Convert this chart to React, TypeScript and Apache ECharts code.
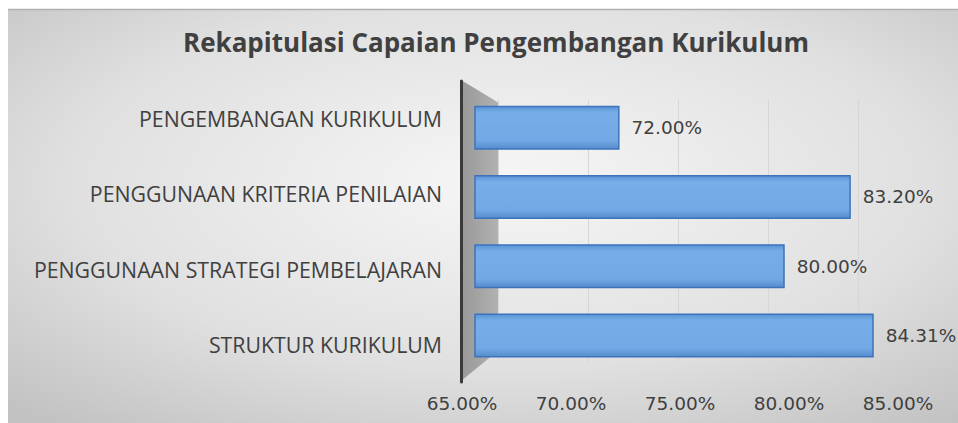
import React, { useEffect, useRef } from "react";
import * as echarts from "echarts";

const categories = [
  "STRUKTUR KURIKULUM",
  "PENGGUNAAN STRATEGI PEMBELAJARAN",
  "PENGGUNAAN KRITERIA PENILAIAN",
  "PENGEMBANGAN KURIKULUM",
];
const values = [84.31, 80.0, 83.2, 72.0];
const axisMin = 65;
const axisMax = 85;
const axisInterval = 5;
const titleText = "Rekapitulasi Capaian Pengembangan Kurikulum";

export default function App() {
  const ref = useRef<HTMLDivElement>(null);
  useEffect(() => {
    if (!ref.current) return;
    const chart = echarts.init(ref.current, undefined, { renderer: "svg" });
    const textColor = "#404040";
    chart.setOption({
      animation: false,
      title: {
        text: titleText,
        left: 491,
        top: 24,
        textAlign: "center",
        textStyle: {
          fontFamily: "Open Sans",
          fontWeight: "bold",
          fontSize: 26,
          color: textColor,
        },
      },
      graphic: [
        {
          type: "rect",
          z: -10,
          silent: true,
          shape: { x: 8, y: 9, width: 950, height: 414 },
          style: {
            fill: {
              type: "radial",
              x: 0.52,
              y: 0.42,
              r: 0.75,
              colorStops: [
                { offset: 0, color: "#f6f6f6" },
                { offset: 0.6, color: "#e0e0e0" },
                { offset: 1, color: "#c2c2c2" },
              ],
            },
          },
        },
        {
          type: "line",
          z: -9,
          silent: true,
          shape: { x1: 8, y1: 9.5, x2: 958, y2: 9.5 },
          style: { stroke: "#b0b0b0", lineWidth: 1.5 },
        },
        {
          type: "polygon",
          z: 0,
          silent: true,
          shape: {
            points: [
              [461, 80],
              [499, 103],
              [499, 350],
              [461, 381],
            ],
          },
          style: {
            fill: {
              type: "linear",
              x: 0,
              y: 0,
              x2: 1,
              y2: 0,
              colorStops: [
                { offset: 0, color: "#989898" },
                { offset: 1, color: "#b2b2b2" },
              ],
            },
          },
        },
      ],
      grid: [
        { left: 475, width: 413, top: 93, height: 277 },
        { left: 461, width: 400, top: 81, height: 301 },
        { left: 462, width: 436, top: 81, height: 301 },
        { left: 498, width: 360, top: 100, height: 262 },
      ],
      xAxis: [
        {
          gridIndex: 0,
          type: "value",
          min: axisMin,
          max: axisMax,
          interval: axisInterval,
          show: false,
        },
        {
          gridIndex: 1,
          type: "value",
          min: axisMin,
          max: axisMax,
          show: false,
        },
        {
          gridIndex: 2,
          type: "value",
          min: axisMin,
          max: axisMax,
          interval: axisInterval,
          axisLine: { show: false },
          axisTick: { show: false },
          splitLine: { show: false },
          axisLabel: {
            margin: 12,
            color: textColor,
            fontFamily: "DejaVu Sans",
            fontSize: 18.5,
            formatter: (v: number) => v.toFixed(2) + "%",
          },
        },
        {
          gridIndex: 3,
          type: "value",
          min: axisMin,
          max: axisMax,
          interval: axisInterval,
          axisLine: { show: false },
          axisTick: { show: false },
          axisLabel: { show: false },
          splitLine: { show: true, lineStyle: { color: "#d6d6d6", width: 1 } },
        },
      ],
      yAxis: [
        {
          gridIndex: 0,
          type: "category",
          data: categories,
          show: false,
        },
        {
          gridIndex: 1,
          type: "category",
          data: categories,
          z: 5,
          axisLine: { show: true, lineStyle: { color: "#3a3a3a", width: 3 } },
          axisTick: { show: false },
          axisLabel: {
            margin: 19,
            color: textColor,
            fontFamily: "Open Sans",
            fontSize: 21.3,
          },
        },
        {
          gridIndex: 2,
          type: "category",
          data: categories,
          show: false,
        },
        {
          gridIndex: 3,
          type: "category",
          data: categories,
          show: false,
        },
      ],
      series: [
        {
          type: "bar",
          xAxisIndex: 0,
          yAxisIndex: 0,
          data: values,
          barWidth: 44,
          z: 3,
          itemStyle: {
            color: {
              type: "linear",
              x: 0,
              y: 0,
              x2: 0,
              y2: 1,
              colorStops: [
                { offset: 0, color: "#5a92d4" },
                { offset: 0.15, color: "#77aee9" },
                { offset: 0.8, color: "#72a9e5" },
                { offset: 1, color: "#568cCc" },
              ],
            },
            borderColor: "#3b74bd",
            borderWidth: 1.5,
          },
          label: {
            show: true,
            position: "right",
            distance: 12,
            color: textColor,
            fontFamily: "DejaVu Sans",
            fontSize: 18.5,
            formatter: (p: any) => p.value.toFixed(2) + "%",
          },
        },
      ],
    });
    return () => chart.dispose();
  }, []);
  return (
    <div
      ref={ref}
      style={{ position: "fixed", left: 0, top: 0, width: 958, height: 423, background: "#ffffff" }}
    />
  );
}
